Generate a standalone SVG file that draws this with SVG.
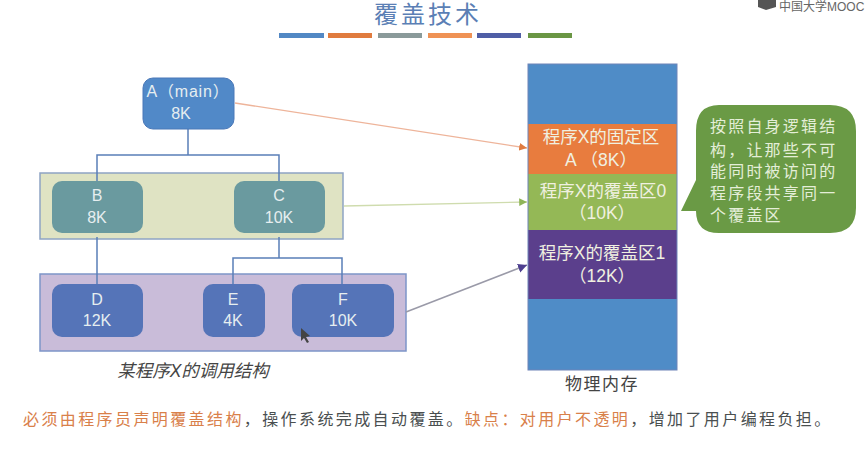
<svg xmlns="http://www.w3.org/2000/svg" width="867" height="463" viewBox="0 0 867 463">
<style>
text{font-family:"Liberation Sans","Noto Sans CJK SC",sans-serif}
.n{fill:#e6eef0;font-size:16px;text-anchor:middle}
.t{stroke:#5a7fb8;stroke-width:1.5;fill:none}
.m{fill:#f0f0e0;font-size:17.5px;text-anchor:middle}
.c{fill:#e4eed8;font-size:16px;letter-spacing:2.2px}
.b{font-size:16px;letter-spacing:2.4px}
.o{fill:#d9804a}.k{fill:#4a4f50}
</style>
<defs>
<marker id="ao" markerWidth="7" markerHeight="7" refX="6" refY="3" orient="auto"><path d="M0 0L6 3L0 6Z" fill="#e07b40"/></marker>
<marker id="ag" markerWidth="7" markerHeight="7" refX="6" refY="3" orient="auto"><path d="M0 0L6 3L0 6Z" fill="#8fb558"/></marker>
<marker id="ap" markerWidth="7" markerHeight="7" refX="6" refY="3" orient="auto"><path d="M0 0L6 3L0 6Z" fill="#4d3f8f"/></marker>
</defs>
<rect width="867" height="463" fill="#fff"/>
<g id="title">
<text x="428" y="23" font-size="24" fill="#5b7fb5" text-anchor="middle" letter-spacing="3">覆盖技术</text>
<rect x="279" y="33" width="45" height="5" fill="#5288c4"/><rect x="328" y="33" width="44" height="5" fill="#e07b3e"/><rect x="378" y="33" width="44" height="5" fill="#8a9a9a"/><rect x="428" y="33" width="44" height="5" fill="#ef9255"/><rect x="477" y="33" width="44" height="5" fill="#4f5ea6"/><rect x="528" y="33" width="44" height="5" fill="#6a9644"/>
</g>
<g id="logo"><path d="M758 0H776V7L766 10L758 7Z" fill="#555"/><text x="779" y="11" font-size="12" fill="#666">中国大学MOOC</text></g>
<g id="group-bc"><rect x="40" y="173" width="303" height="66" fill="#dfe3c3" stroke="#8ea4c4" stroke-width="1.5"/></g>
<g id="group-def"><rect x="40" y="274" width="366" height="77" fill="#c9bcd9" stroke="#7d95c8" stroke-width="1.5"/></g>
<g id="connectors">
<path class="t" d="M188 129V155M97 181V155H279V181M97 237V284M279 237V258M233 284V258H342V284"/>
<path d="M235 103L527 148" stroke="#eeb49a" stroke-width="1.3" fill="none" marker-end="url(#ao)"/>
<path d="M344 206L527 202" stroke="#cfdcae" stroke-width="1.3" fill="none" marker-end="url(#ag)"/>
<path d="M406 312L527 265" stroke="#9a9aa8" stroke-width="1.5" fill="none" marker-end="url(#ap)"/>
</g>
<g id="node-a"><rect x="143" y="78" width="91" height="51" rx="10" fill="#5189c8" stroke="#4b78b8"/><text class="n" x="188" y="97" letter-spacing="0.8">A（main）</text><text class="n" x="181" y="119">8K</text></g>
<g id="node-b"><rect x="52" y="181" width="91" height="52" rx="10" fill="#6a9a9f"/><text class="n" x="97" y="201">B</text><text class="n" x="97" y="223">8K</text></g>
<g id="node-c"><rect x="234" y="181" width="91" height="52" rx="10" fill="#6a9a9f"/><text class="n" x="279" y="201">C</text><text class="n" x="279" y="223">10K</text></g>
<g id="node-d"><rect x="52" y="284" width="91" height="53" rx="10" fill="#5574b8"/><text class="n" x="97" y="305">D</text><text class="n" x="97" y="326">12K</text></g>
<g id="node-e"><rect x="203" y="284" width="62" height="53" rx="10" fill="#5574b8"/><text class="n" x="233" y="305">E</text><text class="n" x="233" y="326">4K</text></g>
<g id="node-f"><rect x="292" y="284" width="102" height="53" rx="10" fill="#5574b8"/><text class="n" x="343" y="305">F</text><text class="n" x="343" y="326">10K</text></g>
<path d="M301 328V341L304 338L307 343L309 342L306 337L310 336Z" fill="#444"/>
<g id="memory">
<rect x="528" y="64" width="149" height="60" fill="#4f8cc7"/>
<rect x="528" y="124" width="149" height="50" fill="#e87c3e"/>
<rect x="528" y="174" width="149" height="56" fill="#94b856"/>
<rect x="528" y="230" width="149" height="69" fill="#5b3f8c"/>
<rect x="528" y="299" width="149" height="71" fill="#4f8cc7"/>
<rect x="528" y="64" width="149" height="306" fill="none" stroke="#6f84b8"/>
<text class="m" x="601" y="143">程序X的固定区</text><text class="m" x="601" y="166">A （8K）</text>
<text class="m" x="603" y="197">程序X的覆盖区0</text><text class="m" x="602" y="219">（10K）</text>
<text class="m" x="602" y="259">程序X的覆盖区1</text><text class="m" x="602" y="282">（12K）</text>
</g>
<g id="callout"><path d="M719 105H830Q856 105 856 131V208Q856 233 830 233H719Q696 233 696 211H681L696 180V131Q696 105 719 105Z" fill="#6a9a45"/>
<text class="c" x="710" y="132">按照自身逻辑结</text><text class="c" x="710" y="156">构，让那些不可</text><text class="c" x="710" y="177">能同时被访问的</text><text class="c" x="710" y="199">程序段共享同一</text><text class="c" x="710" y="221">个覆盖区</text></g>
<text x="193" y="377" font-size="17.5" font-style="italic" fill="#444" text-anchor="middle">某程序X的调用结构</text>
<text x="602" y="390" font-size="17" fill="#444" text-anchor="middle" letter-spacing="1.5">物理内存</text>
<g id="note" class="b"><text x="23" y="425"><tspan class="o">必须由程序员声明覆盖结构</tspan><tspan class="k">，操作系统完成自动覆盖。</tspan><tspan class="o">缺点：对用户不透明</tspan><tspan class="k">，增加了用户编程负担。</tspan></text></g>
</svg>
